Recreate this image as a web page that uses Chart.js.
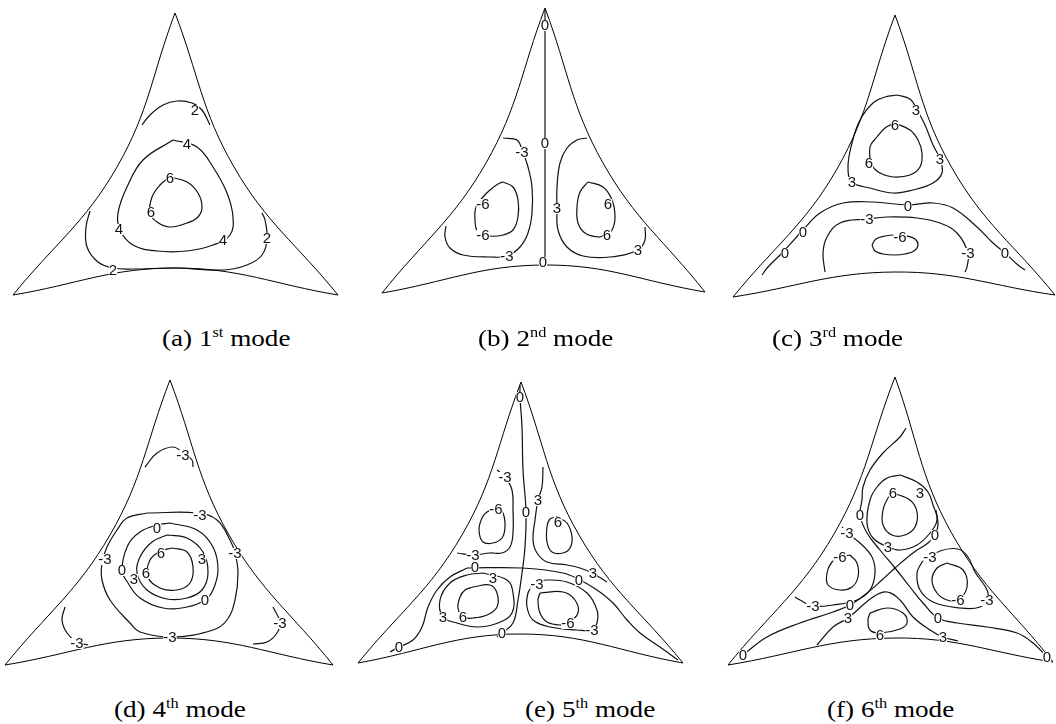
<!DOCTYPE html>
<html>
<head>
<meta charset="utf-8">
<script src="https://cdn.jsdelivr.net/npm/chart.js@4.4.0/dist/chart.umd.min.js"></script>
<style>
  html, body { margin: 0; padding: 0; background: #fff; width: 1056px; height: 724px; overflow: hidden; }
  .panel { position: absolute; width: 356px; height: 310px; }
  .cap {
    position: absolute; white-space: nowrap; color: #000;
    font-family: "Liberation Serif", "Times New Roman", serif; font-size: 23px; line-height: 23px;
    transform: scaleX(1.18); transform-origin: left top;
  }
  .cap sup { font-size: 0.6em; vertical-align: 0; position: relative; top: -0.62em; }
</style>
</head>
<body>
<div class="panel" style="left:0;top:0"><canvas id="modeA"></canvas></div>
<div class="panel" style="left:350px;top:0"><canvas id="modeB"></canvas></div>
<div class="panel" style="left:700px;top:0"><canvas id="modeC"></canvas></div>
<div class="panel" style="left:0;top:360px"><canvas id="modeD"></canvas></div>
<div class="panel" style="left:350px;top:360px"><canvas id="modeE"></canvas></div>
<div class="panel" style="left:700px;top:360px"><canvas id="modeF"></canvas></div>

<div class="cap" style="left:162px;top:327px">(a) 1<sup>st</sup> mode</div>
<div class="cap" style="left:478px;top:327px">(b) 2<sup>nd</sup> mode</div>
<div class="cap" style="left:772px;top:327px">(c) 3<sup>rd</sup> mode</div>
<div class="cap" style="left:114px;top:698px">(d) 4<sup>th</sup> mode</div>
<div class="cap" style="left:525px;top:698px">(e) 5<sup>th</sup> mode</div>
<div class="cap" style="left:827px;top:698px">(f) 6<sup>th</sup> mode</div>

<script>
// plate outline: apex, left-side middle, bottom-left, bottom middle, bottom-right, right-side middle
// contour lines are [x, y] lists in panel units; loops repeat their first point
// labels are [x, y, level]

// (a) 1st mode
const rimA = [[175, 13], [117, 167], [13, 295], [175, 268], [338, 295], [234, 167]];
const curvesA = [
  [[170,177],[187,182],[198,193],[202,207],[198,217],[187,223],[170,227],[157,222],[150,213],[152,197],[160,185],[170,177]],
  [[173,140],[197,147],[213,167],[227,193],[233,217],[230,235],[213,245],[187,251],[157,251],[133,245],[120,230],[118,213],[127,187],[143,160],[173,140]],
  [[142,125],[150,115],[163,105],[177,101],[192,103],[202,110],[210,125]],
  [[90,211],[86,227],[87,247],[98,262],[113,268],[133,269],[175,268],[223,270],[247,265],[262,255],[267,238],[265,220],[262,213]]
];
const labelsA = [[195,110,'2'],[187,144,'4'],[170,178,'6'],[151,212,'6'],[119,229,'4'],[223,240,'4'],[267,238,'2'],[113,270,'2']];

// (b) 2nd mode
const rimB = [[195, 8], [136, 163], [32, 293], [195, 265], [355, 292], [253, 163]];
const curvesB = [
  [[195,10],[195,265]],
  [[153,138],[167,140],[172,150],[178,167],[182,187],[182,213],[178,233],[170,247],[157,256],[140,257],[113,255],[100,248],[95,237],[96,226]],
  [[153,182],[163,187],[168,200],[168,217],[163,230],[153,235],[140,236],[128,232],[125,220],[126,207],[133,197],[140,190],[148,184],[153,182]],
  [[237,138],[227,140],[217,148],[210,163],[207,187],[207,208],[208,230],[217,247],[233,256],[260,257],[288,250],[295,240],[295,227]],
  [[238,182],[253,187],[262,200],[265,217],[262,230],[255,235],[248,237],[235,233],[228,223],[227,207],[230,192],[238,182]]
];
const labelsB = [[195,25,'0'],[195,143,'0'],[193,262,'0'],[172,152,'-3'],[133,204,'-6'],[133,235,'-6'],[157,256,'-3'],[207,208,'3'],[258,204,'6'],[257,235,'6'],[288,250,'3']];

// (c) 3rd mode
const rimC = [[195, 15], [137, 169], [33, 297], [195, 272], [355, 295], [252, 168]];
const curvesC = [
  [[197,95],[210,99],[216,108],[225,125],[233,145],[240,159],[242,173],[233,183],[213,190],[193,193],[170,188],[152,182],[148,167],[152,143],[160,120],[173,103],[185,97],[197,95]],
  [[195,123],[210,130],[218,140],[222,153],[220,167],[210,175],[193,177],[180,173],[172,165],[170,147],[177,137],[185,128],[195,123]],
  [[62,275],[68,267],[83,252],[103,230],[120,213],[143,203],[173,202],[208,205],[233,203],[253,208],[277,227],[293,243],[305,253],[318,265],[325,270]],
  [[125,272],[123,253],[127,237],[140,223],[167,219],[187,217],[217,218],[240,223],[257,233],[268,253],[267,267],[265,272]],
  [[172,245],[176,239],[185,236],[195,235],[207,236],[215,239],[218,245],[214,251],[205,254],[195,255],[183,254],[175,251],[172,245]]
];
const labelsC = [[216,110,'3'],[195,125,'6'],[240,159,'3'],[169,163,'6'],[152,182,'3'],[208,206,'0'],[103,232,'0'],[85,253,'0'],[167,219,'-3'],[200,237,'-6'],[268,253,'-3'],[305,253,'0']];

// (d) 4th mode
const rimD = [[170, 20], [110, 175], [5, 305], [170, 278], [333, 305], [229, 175]];
const curvesD = [
  [[145,107],[157,93],[173,87],[183,93],[192,100],[193,107]],
  [[147,153],[197,153],[217,160],[230,180],[235,193],[238,213],[235,240],[227,260],[213,270],[173,277],[140,272],[130,263],[110,240],[102,220],[102,203],[107,187],[117,170],[127,158],[147,153]],
  [[170,163],[197,170],[213,187],[218,210],[213,230],[205,240],[187,247],[163,248],[140,238],[128,223],[122,210],[128,185],[140,172],[157,165],[170,163]],
  [[167,175],[187,178],[203,192],[208,213],[202,230],[187,238],[167,239],[147,230],[137,213],[140,197],[152,182],[167,175]],
  [[172,188],[187,192],[193,207],[190,223],[177,230],[160,228],[148,217],[150,200],[161,191],[172,188]],
  [[65,247],[62,260],[67,273],[77,282],[88,285]],
  [[273,247],[280,262],[277,273],[267,282],[253,284]]
];
const labelsD = [[183,95,'-3'],[200,155,'-3'],[157,168,'0'],[161,193,'6'],[202,199,'3'],[235,193,'-3'],[105,199,'-3'],[122,210,'0'],[134,219,'3'],[146,213,'6'],[205,240,'0'],[170,277,'-3'],[77,283,'-3'],[280,263,'-3']];

// (e) 5th mode
const rimE = [[171, 22], [112, 175], [8, 303], [170, 274], [333, 303], [229, 175]];
const curvesE = [
  [[170,25],[170,37],[172,67],[173,110],[176,152],[175,187],[172,213],[168,240],[163,263],[152,273],[147,277]],
  [[117,208],[172,208],[213,213],[230,220],[247,230],[263,243],[277,260],[290,273],[310,287],[328,300]],
  [[117,208],[100,217],[87,230],[78,247],[72,267],[63,280],[49,287],[40,292]],
  [[147,110],[155,117],[162,130],[163,150],[163,173],[160,187],[152,193],[140,193],[123,195],[107,193]],
  [[147,148],[153,153],[155,167],[152,178],[143,183],[133,182],[129,170],[132,158],[137,152],[147,148]],
  [[193,107],[192,127],[188,140],[185,160],[183,180],[187,193],[197,202],[217,205],[230,208],[242,213],[257,222]],
  [[207,157],[217,163],[222,177],[220,188],[213,193],[202,192],[197,182],[197,167],[200,159],[207,157]],
  [[133,213],[157,220],[163,233],[162,253],[148,263],[127,267],[107,263],[93,257],[90,240],[100,223],[117,215],[133,213]],
  [[123,227],[140,225],[147,233],[147,247],[137,255],[123,258],[113,257],[108,248],[110,237],[115,230],[123,227]],
  [[187,222],[197,220],[217,222],[237,233],[247,250],[247,263],[242,270],[227,270],[200,267],[183,260],[177,247],[178,233],[182,227],[187,222]],
  [[190,233],[213,232],[225,240],[228,253],[218,263],[210,265],[197,262],[190,253],[188,240],[190,233]]
];
const labelsE = [[170,37,'0'],[155,117,'-3'],[188,140,'3'],[176,152,'0'],[146,149,'-6'],[208,162,'6'],[123,195,'-3'],[125,207,'0'],[143,218,'3'],[229,220,'0'],[243,213,'3'],[187,224,'-3'],[93,257,'3'],[113,257,'6'],[218,263,'-6'],[242,270,'-3'],[152,273,'0'],[49,287,'0']];

// (f) 6th mode
const rimF = [[195, 17], [134, 174], [28, 305], [195, 278], [353, 302], [251, 172]];
const curvesF = [
  [[206,68],[200,77],[183,93],[170,110],[163,127],[162,140],[160,155],[167,173],[180,190],[195,208],[210,227],[223,243],[238,258],[257,263],[287,267],[317,273],[333,283],[347,297]],
  [[43,295],[67,277],[100,263],[133,252],[150,245],[167,233],[182,220],[195,208],[213,193],[228,183],[235,175],[238,165],[236,150]],
  [[200,115],[217,122],[228,132],[233,145],[237,160],[230,173],[217,185],[200,190],[188,187],[173,178],[167,163],[170,140],[177,127],[187,118],[200,115]],
  [[193,133],[210,140],[217,152],[215,167],[205,175],[192,175],[183,165],[183,150],[188,138],[193,133]],
  [[142,167],[147,173],[160,183],[172,197],[175,213],[170,230],[157,240],[133,245],[113,246],[100,240],[95,237]],
  [[150,195],[157,203],[158,217],[152,227],[140,230],[128,225],[127,213],[132,202],[140,197],[150,195]],
  [[222,202],[240,191],[258,189],[268,197],[275,212],[286,228],[288,237],[280,247],[260,248],[233,242],[220,230],[217,213],[222,202]],
  [[247,203],[263,210],[267,227],[258,240],[247,240],[237,233],[232,220],[237,208],[247,203]],
  [[117,285],[133,267],[148,258],[173,237],[187,232],[200,240],[213,257],[230,270],[243,277],[258,281]],
  [[170,253],[187,248],[203,253],[207,263],[200,269],[180,273],[170,270],[168,260],[170,253]]
];
const labelsF = [[193,133,'6'],[220,133,'3'],[160,155,'0'],[147,173,'-3'],[235,175,'0'],[188,187,'3'],[140,197,'-6'],[230,197,'-3'],[113,246,'-3'],[150,245,'0'],[148,258,'3'],[258,240,'-6'],[287,240,'-3'],[238,258,'0'],[180,275,'6'],[243,277,'3'],[43,295,'0'],[347,297,'0']];

// level numbers written on the lines, with a white patch behind each
const contourLabels = {
  id: 'contourLabels',
  afterDatasetsDraw(chart, args, opts) {
    const { ctx } = chart;
    const sx = chart.scales.x, sy = chart.scales.y;
    ctx.save();
    ctx.font = '15px "Liberation Sans", Arial, sans-serif';
    ctx.textAlign = 'center';
    ctx.textBaseline = 'middle';
    opts.items.forEach(([vx, vy, t]) => {
      const px = sx.getPixelForValue(vx);
      const py = sy.getPixelForValue(vy);
      const w = ctx.measureText(t).width;
      ctx.fillStyle = '#fff';
      ctx.fillRect(px - w / 2, py - 5, w, 11);
      ctx.fillStyle = '#111';
      ctx.fillText(t, px, py + 1);
    });
    ctx.restore();
  }
};

const toXY = pts => pts.map(p => ({ x: p[0], y: p[1] }));

function drawMode(id, rim, curves, labels) {
  const sides = [[rim[0], rim[1], rim[2]], [rim[2], rim[3], rim[4]], [rim[4], rim[5], rim[0]]];
  const datasets = [];
  sides.forEach(s => datasets.push({
    data: toXY(s), showLine: true, borderColor: '#000', borderWidth: 1, tension: 0.4
  }));
  curves.forEach(c => datasets.push({
    data: toXY(c), showLine: true, borderColor: '#111', borderWidth: 1.2, tension: 0.4
  }));

  new Chart(document.getElementById(id), {
    type: 'scatter',
    data: { datasets },
    options: {
      responsive: true,
      maintainAspectRatio: false,
      animation: false,
      events: [],
      layout: { padding: 0 },
      elements: { point: { radius: 0 } },
      scales: {
        x: { type: 'linear', min: 0, max: 356, display: false },
        y: { type: 'linear', min: 0, max: 310, reverse: true, display: false }
      },
      plugins: {
        legend: { display: false },
        tooltip: { enabled: false },
        contourLabels: { items: labels }
      }
    },
    plugins: [contourLabels]
  });
}

drawMode('modeA', rimA, curvesA, labelsA);
drawMode('modeB', rimB, curvesB, labelsB);
drawMode('modeC', rimC, curvesC, labelsC);
drawMode('modeD', rimD, curvesD, labelsD);
drawMode('modeE', rimE, curvesE, labelsE);
drawMode('modeF', rimF, curvesF, labelsF);
</script>
</body>
</html>
